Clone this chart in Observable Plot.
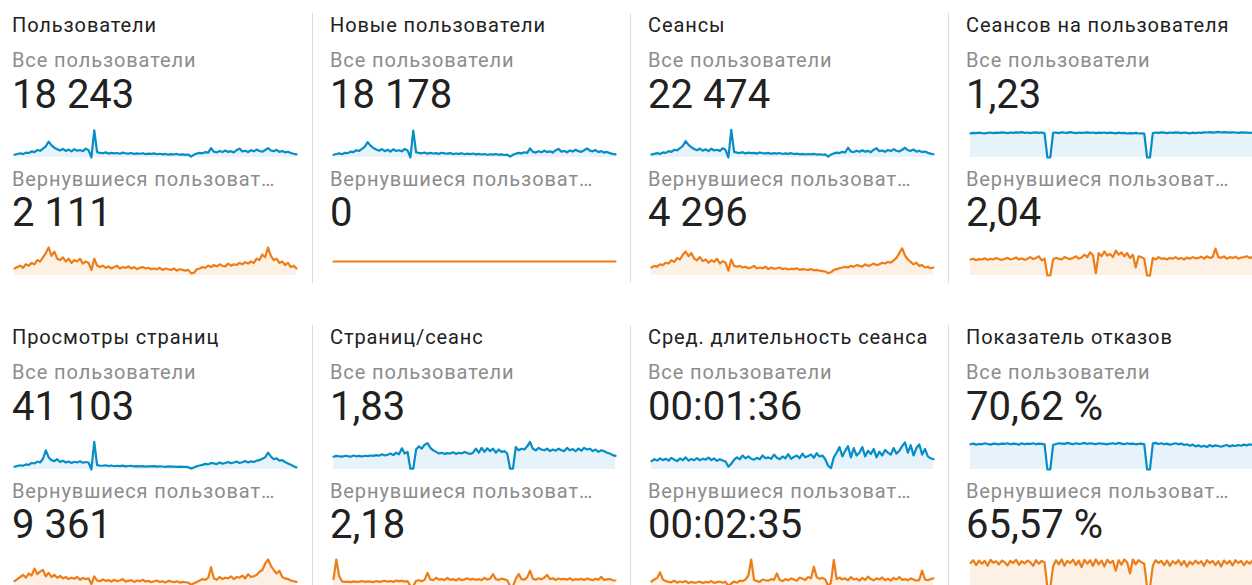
<!DOCTYPE html>
<html>
<head>
<meta charset="utf-8">
<script src="https://cdn.jsdelivr.net/npm/d3@7"></script>
<script src="https://cdn.jsdelivr.net/npm/@observablehq/plot@0.6"></script>
<style>
  html, body { margin: 0; padding: 0; background: #fff; }
  #root { position: relative; width: 1252px; height: 585px; overflow: hidden; font-family: Roboto, "Noto Sans", sans-serif; }
  .t { position: absolute; white-space: nowrap; line-height: 1; }
  .title { font-size: 20px; letter-spacing: 0.9px; color: #212121; }
  .lbl { font-size: 20px; letter-spacing: 0.9px; color: #8c8c8c; }
  .val { font-size: 40px; color: #212121; }
  .sep { position: absolute; width: 1px; background: #dcdcdc; }
  .spark { position: absolute; }
  .spark svg { overflow: visible; display: block; }
</style>
</head>
<body>
<div id="root"></div>
<script>
// ---- text ----
const titles = ["Пользователи", "Новые пользователи", "Сеансы", "Сеансов на пользователя",
                "Просмотры страниц", "Страниц/сеанс", "Сред. длительность сеанса", "Показатель отказов"];
const segmentAll = "Все пользователи";
const segmentReturning = "Вернувшиеся пользоват…";
const totalsAll = ["18 243", "18 178", "22 474", "1,23", "41 103", "1,83", "00:01:36", "70,62 %"];
const totalsReturning = ["2 111", "0", "4 296", "2,04", "9 361", "2,18", "00:02:35", "65,57 %"];

// ---- daily series, all users ----
const usersAll = [30,38,45,36,52,48,65,58,80,72, 95,120,170,130,105,88,75,92,70,85, 66,90,72,80,68,95,78,0,290,58, 50,46,55,42,50,44,48,40,52,45, 42,48,38,44,40,46,36,42,38,44, 35,40,33,38,30,36,32,38,30,34, 28,32,10,30,42,50,45,58,52,100, 62,55,70,58,75,60,68,55,80,95, 65,72,58,78,66,85,70,62,80,100, 75,68,82,60,70,55,62,48,40,34];
const newUsersAll = [29,37,44,35,50,47,63,57,78,70, 93,116,165,127,102,86,73,90,68,83, 64,88,70,78,66,92,76,0,288,56, 49,45,53,41,49,43,47,39,51,44, 41,47,37,43,39,45,35,41,37,43, 34,39,32,37,29,35,31,37,29,33, 27,31,10,29,41,49,44,56,50,97, 60,53,68,56,73,58,66,53,78,92, 63,70,56,76,64,83,68,60,78,97, 73,66,80,58,68,53,60,47,39,33];
const sessionsAll = [37,46,55,44,63,58,79,71,97,88, 116,146,205,158,128,107,91,112,85,103, 80,110,88,97,83,116,95,0,345,71, 61,56,67,51,61,54,58,49,63,55, 51,58,46,54,49,56,44,51,46,54, 43,49,40,46,37,44,39,46,37,41, 34,39,12,37,51,61,55,71,63,122, 75,67,85,71,91,73,83,67,97,116, 79,88,71,95,80,104,85,75,97,122, 91,83,100,73,85,67,75,58,49,41];
const sessPerUserAll = [1.21,1.23,1.22,1.24,1.22,1.21,1.23,1.25,1.22,1.24, 1.23,1.26,1.24,1.22,1.25,1.23,1.26,1.24,1.27,1.23, 1.25,1.22,1.24,1.26,1.23,1.25,1.21,0,0,1.23, 1.25,1.22,1.26,1.24,1.23,1.27,1.24,1.22,1.25,1.23, 1.24,1.26,1.23,1.25,1.22,1.24,1.23,1.25,1.22,1.24, 1.23,1.21,1.24,1.22,1.23,1.20,1.22,1.21,1.23,1.20, 1.21,1.19,0,0,1.22,1.25,1.23,1.26,1.24,1.22, 1.25,1.23,1.26,1.24,1.22,1.25,1.23,1.21,1.24,1.22, 1.25,1.23,1.26,1.25,1.27,1.24,1.26,1.28,1.25,1.27, 1.26,1.24,1.26,1.25,1.23,1.26,1.24,1.25,1.23,1.24];
const pageviewsAll = [60,75,90,80,110,100,140,130,170,150, 230,410,260,200,180,220,160,190,150,170, 140,165,150,175,145,160,150,0,590,95, 85,80,90,75,85,70,80,72,82,68, 75,80,65,72,68,74,62,70,66,72, 60,68,64,58,66,60,64,56,62,58, 55,50,20,45,70,85,100,120,110,140, 130,115,150,125,140,160,135,150,170,140, 155,180,150,175,160,190,200,230,260,360, 280,220,240,190,200,160,130,100,70,45];
const pagesPerSessionAll = [1.6,1.7,1.65,1.6,1.72,1.68,1.6,1.75,1.65,1.7, 1.62,1.72,1.68,1.75,1.7,1.8,1.72,1.9,1.75,1.85, 2.0,1.8,2.1,1.9,2.65,2.0,2.2,0.1,0.1,2.5, 2.9,2.6,3.1,3.3,2.7,2.4,2.2,2.0,2.1,1.95, 2.05,2.0,2.15,1.95,2.1,2.0,2.2,2.05,1.95,2.1, 2.6,2.1,2.7,2.2,2.65,2.3,2.6,2.1,2.5,2.2, 2.3,2.0,0.1,0.1,2.8,2.4,2.6,2.5,2.9,3.45, 2.6,2.4,2.7,2.5,2.4,2.6,2.3,2.5,2.35,2.6, 2.4,2.3,2.7,2.4,2.55,2.3,2.6,2.35,2.7,2.5, 2.6,2.3,2.5,2.2,2.4,2.3,2.1,2.0,1.8,1.7];
const avgDurationAll = [90,110,95,120,100,115,95,125,105,90, 118,100,130,95,112,100,122,98,115,105, 128,100,118,92,110,96,85,30,60,105, 130,110,150,120,140,115,105,125,110,150, 120,130,115,160,125,110,140,120,165,115, 135,150,120,170,130,145,160,125,175,140, 150,110,40,15,130,180,240,140,200,250, 130,230,150,180,240,140,200,165,220,130, 190,150,210,180,160,230,170,200,250,290, 180,260,150,230,270,160,220,140,120,110];
const bounceAll = [72,74,71,73,72,75,73,71,74,73, 72,74,73,75,72,74,73,71,75,72, 74,73,75,72,74,73,72,0,0,70, 73,75,74,73,76,74,72,75,73,74, 76,73,75,74,72,75,74,73,72,74, 75,73,76,74,72,75,73,74,72,73, 74,72,0,0,74,76,73,75,72,74, 71,73,75,72,74,70,72,68,71,66, 69,65,68,64,70,66,69,67,65,68, 70,66,69,67,70,68,71,69,72,70];

// ---- daily series, returning users ----
const usersRet = [5,6,7,5.5,8,7,9,8,11,10, 13,16,20,14,17,12,11,13,10,12, 9,11,10,12,8.5,10,9,4,12,7, 6,7,5.5,6.5,5,6,7,5,6,5.5, 6.5,5,6,4.5,5.5,6,5,5.5,4.5,5, 4.5,5.5,4,5,4.5,4,5,3.5,4.5,4, 3.5,4,1.5,2,4.5,5,6,5.5,7,6, 7.5,6.5,8,7,6.5,8.5,7,8,7.5,9, 8,9.5,8.5,10,9,12,11,15,13,20, 14,11,12,9,10,7.5,9,6,7,5];
const newUsersRet = [0,0,0,0,0,0,0,0,0,0, 0,0,0,0,0,0,0,0,0,0, 0,0,0,0,0,0,0,0,0,0, 0,0,0,0,0,0,0,0,0,0, 0,0,0,0,0,0,0,0,0,0, 0,0,0,0,0,0,0,0,0,0, 0,0,0,0,0,0,0,0,0,0, 0,0,0,0,0,0,0,0,0,0, 0,0,0,0,0,0,0,0,0,0, 0,0,0,0,0,0,0,0,0,0];
const sessionsRet = [10,12,11,14,13,16,15,19,17,22, 20,26,30,24,28,21,19,23,18,20, 16,19,17,21,15,18,16,6,20,12, 11,12,10,11,9,10,12,9,10,9, 11,8,10,8.5,9,10,8,9,7.5,8.5, 8,9,7,8,7.5,7,8,6.5,7,6, 5.5,5,3,4,7,8,9,10,11,10, 12,11,13,12,11,14,12,13,15,13, 14,16,15,17,16,19,22,28,34,25, 20,17,14,16,12,13,10,11,9,10];
const sessPerUserRet = [2.0,2.1,1.9,2.05,2.0,2.15,1.95,2.1,2.0,2.2, 2.05,1.95,2.1,2.2,2.0,2.1,2.25,2.0,2.15,1.95, 2.1,2.3,2.05,2.2,2.4,1.9,2.1,0,0,2.0, 2.2,2.1,2.0,2.3,2.15,2.05,2.2,2.4,2.1,2.25, 2.6,2.3,2.9,2.5,0.3,2.8,2.4,3.0,2.5,2.7, 2.3,3.1,2.6,2.9,2.4,2.8,2.2,2.6,1.0,2.4, 2.3,2.1,0,0,2.2,2.0,2.3,2.1,2.15,2.0, 2.2,2.1,2.3,2.05,2.2,2.0,2.25,2.1,2.3,2.15, 2.2,2.35,2.1,2.4,2.2,2.3,3.35,2.3,2.2,2.4, 2.1,2.3,2.2,2.35,2.1,2.25,2.3,2.4,2.2,2.3];
const pageviewsRet = [18,24,30,36,28,40,34,54,38,46, 50,32,42,30,36,28,33,26,30,24, 28,25,30,22,27,24,26,10,32,20, 18,23,19,21,17,22,18,20,24,17, 19,21,16,20,18,22,17,19,15,18, 20,16,18,14,19,17,15,18,14,16, 15,14,8,12,16,20,24,22,28,58, 26,22,30,24,28,26,32,24,30,28, 34,26,38,30,32,36,45,50,68,80, 62,50,40,48,30,26,24,20,18,16];
const pagesPerSessionRet = [3.0,10.0,4.0,2.2,2.0,2.1,1.9,2.2,2.0,2.1, 2.3,2.0,2.2,2.1,1.9,2.3,2.0,2.2,2.4,2.1, 2.3,2.0,2.5,2.2,2.4,2.1,2.3,0.5,0.5,2.4, 2.6,2.2,2.8,5.2,2.9,2.6,3.5,2.8,3.0,2.6, 3.4,2.7,3.0,2.5,3.2,2.6,2.9,3.3,2.8,3.1, 2.7,3.0,2.6,3.4,2.8,3.2,4.8,3.0,2.7,3.2, 2.9,2.6,0.5,0.5,3.1,4.8,3.0,2.8,3.6,6.0, 3.1,2.8,3.3,2.9,3.5,4.5,3.0,3.3,2.7,3.2, 2.9,3.1,2.8,3.3,2.6,3.0,2.8,3.1,2.7,3.2, 2.9,2.6,3.1,2.8,3.8,2.7,2.9,3.0,2.6,2.5];
const avgDurationRet = [150,200,240,380,200,160,140,130,170,120, 150,130,160,110,140,120,130,150,110,140, 125,160,115,135,150,120,140,40,100,150, 120,170,160,200,300,700,190,160,140,200, 180,170,210,190,350,190,160,210,180,230, 200,170,250,220,190,260,230,520,260,220, 240,200,40,120,690,210,250,200,230,180, 260,200,220,170,240,190,270,210,180,230, 200,250,180,220,170,240,200,260,190,210, 180,230,200,170,190,420,200,180,210,230];
const bounceRet = [70,78,64,77,68,76,62,79,71,75, 66,77,72,63,76,70,79,65,75,69, 77,72,62,78,68,76,72,0,0,60, 78,66,80,62,76,70,79,64,77,58, 79,68,78,62,80,66,77,60,79,70, 76,48,78,65,80,72,40,80,66,78, 72,68,0,0,62,78,70,76,64,77, 62,75,68,78,64,76,60,74,66,77, 68,75,62,78,70,76,64,75,60,77, 68,76,63,78,70,76,64,75,68,77];

const seriesAll = [usersAll, newUsersAll, sessionsAll, sessPerUserAll, pageviewsAll, pagesPerSessionAll, avgDurationAll, bounceAll];
const seriesRet = [usersRet, newUsersRet, sessionsRet, sessPerUserRet, pageviewsRet, pagesPerSessionRet, avgDurationRet, bounceRet];

const BLUE = "#058dc7", BLUE_FILL = "#e6f3fa";
const ORANGE = "#ed7e17", ORANGE_FILL = "#fdf1e6";

function spark(values, stroke, fill) {
  const data = values.map((v, i) => ({i, v}));
  const max = d3.max(values);
  const yDomain = max === 0 ? [-1, 1] : d3.nice(0, max, 5);
  return Plot.plot({
    width: 282, height: 30,
    marginTop: 1, marginBottom: 1, marginLeft: 0, marginRight: 0,
    x: {axis: null, domain: [0, values.length - 1]},
    y: {axis: null, domain: yDomain},
    marks: [
      Plot.areaY(data, {x: "i", y: "v", fill}),
      Plot.lineY(data, {x: "i", y: "v", stroke, strokeWidth: 2.2, strokeLinejoin: "round"})
    ]
  });
}

const root = document.getElementById("root");
function addText(cls, text, x, top) {
  const d = document.createElement("div");
  d.className = "t " + cls;
  d.textContent = text;
  d.style.left = x + "px";
  d.style.top = top + "px";
  root.appendChild(d);
}
function addSpark(svg, x, top) {
  const d = document.createElement("div");
  d.className = "spark";
  d.style.left = x + "px";
  d.style.top = top + "px";
  d.appendChild(svg);
  root.appendChild(d);
}
function addSep(x, top, h) {
  const d = document.createElement("div");
  d.className = "sep";
  d.style.left = x + "px";
  d.style.top = top + "px";
  d.style.height = h + "px";
  root.appendChild(d);
}

const colText = [12, 330, 648, 966];
const colSpark = [14, 333, 651, 970];
const rowOff = [0, 312];

for (let k = 0; k < 8; k++) {
  const c = k % 4, r = Math.floor(k / 4);
  const oy = rowOff[r];
  addText("title", titles[k], colText[c], 15 + oy);
  addText("lbl", segmentAll, colText[c], 49.5 + oy);
  addText("val", totalsAll[k], colText[c], 74.5 + oy);
  addSpark(spark(seriesAll[k], BLUE, BLUE_FILL), colSpark[c], 128 + oy);
  addText("lbl", segmentReturning, colText[c], 168.5 + oy);
  addText("val", totalsReturning[k], colText[c], 192.5 + oy);
  addSpark(spark(seriesRet[k], ORANGE, ORANGE_FILL), colSpark[c], 246 + oy);
}
[312, 630, 948].forEach(x => { addSep(x, 13, 270); addSep(x, 325, 260); });
</script>
</body>
</html>
